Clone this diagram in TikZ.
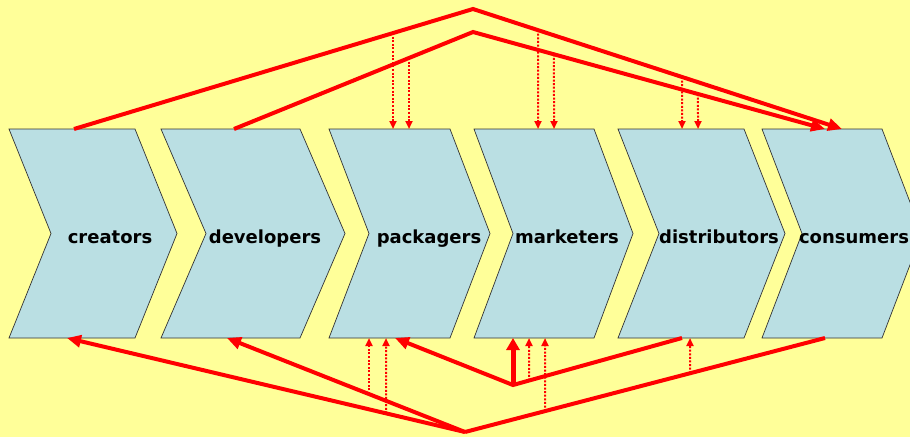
\documentclass[tikz,border=0pt]{standalone}
\usepackage{fontspec}
\setsansfont{DejaVu Sans}
\usetikzlibrary{arrows.meta}

\definecolor{paper}{RGB}{255,255,153}
\definecolor{stageblue}{RGB}{186,223,227}

\begin{document}
\begin{tikzpicture}[x=1pt,y=-1pt,
        stage/.style={draw=black!80,line width=0.7pt,fill=stageblue},
        stagename/.style={font=\sffamily\bfseries\fontsize{18}{20}\selectfont,inner sep=0pt,anchor=base},
        flow/.style={red,line width=4pt},
        flowtip/.style={flow,-{Triangle[length=14pt,width=12pt]}},
        push/.style={red,line width=5pt,-{Triangle[length=12pt,width=13pt]}},
        cue/.style={red,line width=2pt,dash pattern=on 2pt off 1.6pt,-{Triangle[length=8pt,width=7pt]}}]
    \fill[paper] (0,0) rectangle (910,437);
    \useasboundingbox (0,0) rectangle (910,437);
    \clip (0,0) rectangle (910,437);
    % the chain
    \foreach \n/\x/\w/\d/\t in {creators/9/126/42/110, developers/161/139/45/265,
        packagers/329/121/40/429, marketers/474/120/39/567,
        distributors/618/126/41/719, consumers/762/120/40/854}{
        \draw[stage] (\x,129) coordinate (\n-nw) -- ++(\w,0) -- ++(\d,104.5)
            -- ++(-\d,104.5) -- ++(-\w,0) coordinate (\n-sw) -- ++(\d,-104.5) -- cycle;
        \node[stagename] (\n) at (\t,243) {\n};
    }
    \coordinate (peak) at (473,9);
    \coordinate (ridge) at (473,32);
    \coordinate (dip) at (465,432);
    \coordinate (hub) at (513,385);
    % over the top
    \draw[flowtip] ([xshift=65]creators-nw) coordinate (from1) -- (peak)
        -- ([xshift=80]consumers-nw) coordinate (to1);
    \draw[flowtip] ([xshift=73]developers-nw) coordinate (from2) -- (ridge)
        -- ([xshift=63]consumers-nw) coordinate (to2);
    \foreach \x/\a/\b/\s in {393/from1/peak/packagers, 409/from2/ridge/packagers,
        538/peak/to1/marketers, 554/ridge/to2/marketers,
        682/peak/to1/distributors, 698/ridge/to2/distributors}
        \draw[cue] (intersection cs: first line={(\a)--(\b)}, second line={(\x,0)--(\x,1)})
            -- (\x,0 |- \s-nw);
    % back along the bottom
    \draw[flowtip] (dip) -- ([xshift=58]creators-sw) coordinate (to3);
    \draw[flowtip] (dip) -- ([xshift=66]developers-sw) coordinate (to4);
    \draw[flow] ([xshift=63]consumers-sw) coordinate (from3) -- (dip);
    \draw[flowtip] ([xshift=64]distributors-sw) coordinate (from4) -- (hub)
        -- ([xshift=66]packagers-sw);
    \draw[push] (hub) -- (hub |- marketers-sw);
    \foreach \x/\a/\b/\s in {369/dip/to4/packagers, 386/dip/to3/packagers,
        529/hub/from4/marketers, 545/dip/from3/marketers, 690/dip/from3/distributors}
        \draw[cue] (intersection cs: first line={(\a)--(\b)}, second line={(\x,0)--(\x,1)})
            -- (\x,0 |- \s-sw);
\end{tikzpicture}
\end{document}
